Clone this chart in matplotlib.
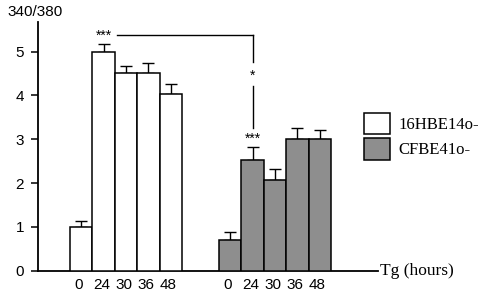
import matplotlib
matplotlib.use("Agg")
from matplotlib import pyplot as plt
import numpy as np

hours = ["0", "24", "30", "36", "48"]
hbe_vals = [1.0, 5.0, 4.52, 4.5, 4.02]
hbe_err = [0.14, 0.18, 0.14, 0.24, 0.23]
cfbe_vals = [0.7, 2.52, 2.06, 3.01, 3.0]
cfbe_err = [0.19, 0.3, 0.25, 0.25, 0.2]

sans = ["Liberation Sans", "DejaVu Sans"]
serif = ["Liberation Serif", "DejaVu Serif"]

fig = plt.figure(figsize=(4.98, 2.94), dpi=100)
ax = fig.add_axes([38 / 498, (294 - 270.7) / 294, 340 / 498, 249 / 294])

w = 1.0
x1 = np.arange(len(hours)) * w
x2 = x1 + 6.65
ekw = dict(elinewidth=1, capsize=4, capthick=1, ecolor="black")
ax.bar(x1, hbe_vals, width=w, align="edge", color="white", edgecolor="black",
       linewidth=1.1, label="16HBE14o-", zorder=3)
ax.errorbar(x1 + w / 2, hbe_vals, yerr=[np.zeros(5), hbe_err], fmt="none", zorder=2, **ekw)
ax.bar(x2, cfbe_vals, width=w, align="edge", color="#8e8e8e", edgecolor="black",
       linewidth=1.1, label="CFBE41o-", zorder=3)
ax.errorbar(x2 + w / 2, cfbe_vals, yerr=[np.zeros(5), cfbe_err], fmt="none", zorder=2, **ekw)

ax.set_xlim(-1.43, 13.75)
ax.set_ylim(0, 5.68)
ax.spines["top"].set_visible(False)
ax.spines["right"].set_visible(False)
ax.spines["left"].set_linewidth(1.3)
ax.spines["bottom"].set_linewidth(1.3)

ax.set_yticks(range(6))
ax.tick_params(axis="y", length=5, width=1.1, pad=5, labelsize=11)
xt = np.concatenate([x1, x2]) + w / 2 - 0.1
ax.set_xticks(xt)
ax.set_xticklabels(hours + hours)
ax.tick_params(axis="x", length=0, pad=5, labelsize=11)
for lab in ax.get_xticklabels() + ax.get_yticklabels():
    lab.set_family(sans)

# significance bracket
c1 = x1[1] + w / 2
c2 = x2[1] + w / 2
ax.plot([c1 + 0.6, c2], [5.38, 5.38], color="black", lw=1, clip_on=False)
ax.plot([c2, c2], [5.38, 4.76], color="black", lw=1)
ax.plot([c2, c2], [4.22, 3.25], color="black", lw=1)
ax.text(c1, 5.36, "***", ha="center", va="center", fontsize=10, family=sans)
ax.text(c2, 4.45, "*", ha="center", va="center", fontsize=10, family=sans)
ax.text(c2, 3.0, "***", ha="center", va="center", fontsize=10, family=sans)

fig.text(35 / 498, 1 - 12 / 294, "340/380", ha="center", va="center",
         fontsize=11, family=sans)
fig.text(380 / 498, 1 - 271 / 294, "Tg (hours)", ha="left", va="center",
         fontsize=12.5, family=serif)

leg = fig.legend(loc="upper left", bbox_to_anchor=(357 / 498, 1 - 106 / 294),
                 frameon=False, prop={"family": serif, "size": 12},
                 handlelength=1.6, handleheight=1.6, handletextpad=0.5,
                 labelspacing=0.25, borderaxespad=0)

fig.savefig("out.png", dpi=100)
